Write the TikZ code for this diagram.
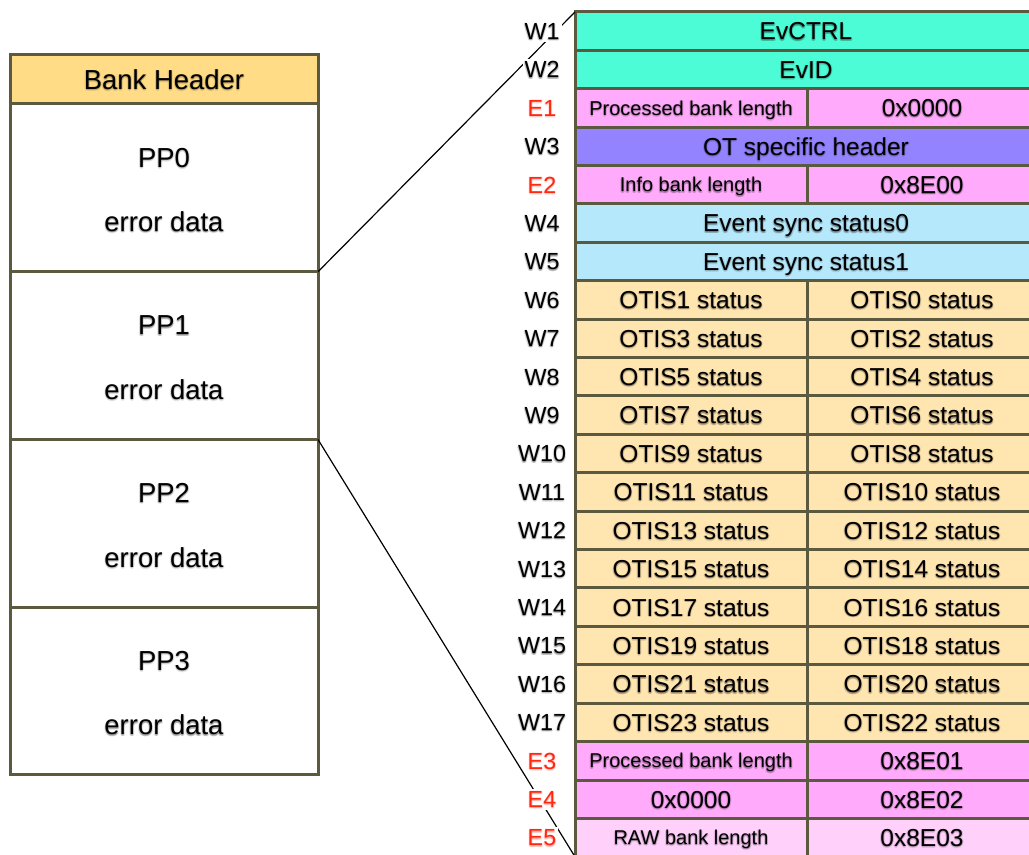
\documentclass[tikz,border=0pt]{standalone}
\usepackage{fontspec}
\setmainfont{Liberation Sans}
\definecolor{frame}{RGB}{92,90,62}
\definecolor{teal}{RGB}{76,252,214}
\definecolor{pinkc}{RGB}{255,170,250}
\definecolor{pinkl}{RGB}{255,208,250}
\definecolor{purplec}{RGB}{148,131,255}
\definecolor{bluec}{RGB}{182,232,252}
\definecolor{otis}{RGB}{255,229,176}
\definecolor{hdrc}{RGB}{255,220,133}
\definecolor{redl}{RGB}{255,40,16}
\tikzset{
  cellbase/.style={draw=frame, line width=2.25pt, inner sep=0pt, outer sep=0pt,
    anchor=north west, minimum height=28.8pt},
  full/.style={cellbase, minimum width=346.5pt},
  lhalf/.style={cellbase, minimum width=174pt},
  rhalf/.style={cellbase, minimum width=172.5pt},
  lbox/.style={draw=frame, line width=2.25pt, inner sep=0pt, outer sep=0pt,
    anchor=north west, minimum width=231pt},
  txt/.style={inner sep=0pt, outer sep=0pt, text depth=0pt},
  big/.style={txt, text height=13.2pt, font=\fontsize{18.4}{20}\selectfont},
  small/.style={txt, text height=10.7pt, font=\fontsize{15}{17}\selectfont},
  large/.style={txt, text height=14.75pt, font=\fontsize{20.6}{24}\selectfont},
  labfont/.style={txt, text height=12.5pt, font=\fontsize{17.5}{20}\selectfont},
  labbg/.style={labfont, fill=white, inner sep=1.5pt, text opacity=0},
  conn/.style={draw=black, line width=0.9pt}
}
% text with a soft drop shadow: #1 style, #2 name, #3 position, #4 text
\newcommand\shtext[4]{%
  \foreach \dx/\dy [count=\i] in {0.5/-0.9, -0.5/-0.9, 0/-1.5, 0.9/-0.4, -0.9/-0.4, 0/-0.4}{
    \node[#1, text opacity=0.09, xshift=\dx pt, yshift=\dy pt] (#2sh\i) at (#3) {#4};
  }
  \node[#1] (#2) at (#3) {#4};
}
% cell with centred text: #1 style, #2 name, #3 corner, #4 text style, #5 text
\newcommand\cell[5]{%
  \node[#1] (#2) at (#3) {};
  \shtext{#4}{#2t}{#2.center}{#5}
}
% word label beside the table: #1 name, #2 row, #3 colour, #4 text
\newcommand\wlabel[4]{%
  \node[labbg] (#1) at (542,12+#2*38.4+19.2) {#4};
  \shtext{labfont, text=#3}{#1t}{#1.center}{#4}
}
\begin{document}
\begin{tikzpicture}[x=0.75pt,y=-0.75pt]
\useasboundingbox (0,0) rectangle (1029,855);
\clip (0,0) rectangle (1029,855);

% bank layout on the left
\node[lbox, fill=hdrc, minimum height=36.75pt] (hdr) at (10,55) {};
\shtext{large}{hdrt}{hdr.center}{Bank Header}
\foreach \p/\y in {0/104, 1/271.75, 2/439.5, 3/607.25}{
  \node[lbox, minimum height=125.8pt] (pp\p) at (10,\y) {};
  \shtext{large, yshift=22.9pt}{pp\p n}{pp\p.center}{PP\p}
  \shtext{large, yshift=-25.4pt}{pp\p e}{pp\p.center}{error data}
}

% word table on the right
\def\tx{575}
\def\ty{12}
\def\rh{38.4}
\def\sx{807}

\cell{full, fill=teal}{w1}{\tx,\ty+0*\rh}{big}{EvCTRL}
\cell{full, fill=teal}{w2}{\tx,\ty+1*\rh}{big}{EvID}
\cell{lhalf, fill=pinkc}{e1l}{\tx,\ty+2*\rh}{small}{Processed bank length}
\cell{rhalf, fill=pinkc}{e1r}{\sx,\ty+2*\rh}{big}{0x0000}
\cell{full, fill=purplec}{w3}{\tx,\ty+3*\rh}{big}{OT specific header}
\cell{lhalf, fill=pinkc}{e2l}{\tx,\ty+4*\rh}{small}{Info bank length}
\cell{rhalf, fill=pinkc}{e2r}{\sx,\ty+4*\rh}{big}{0x8E00}
\cell{full, fill=bluec}{w4}{\tx,\ty+5*\rh}{big}{Event sync status0}
\cell{full, fill=bluec}{w5}{\tx,\ty+6*\rh}{big}{Event sync status1}
\foreach \k [evaluate=\k as \r using int(7+\k), evaluate=\k as \a using int(2*\k+1),
             evaluate=\k as \b using int(2*\k)] in {0,...,11}{
  \cell{lhalf, fill=otis}{ol\k}{\tx,\ty+\r*\rh}{big}{OTIS\a\ status}
  \cell{rhalf, fill=otis}{or\k}{\sx,\ty+\r*\rh}{big}{OTIS\b\ status}
}
\cell{lhalf, fill=pinkc}{e3l}{\tx,\ty+19*\rh}{small}{Processed bank length}
\cell{rhalf, fill=pinkc}{e3r}{\sx,\ty+19*\rh}{big}{0x8E01}
\cell{lhalf, fill=pinkc}{e4l}{\tx,\ty+20*\rh}{big}{0x0000}
\cell{rhalf, fill=pinkc}{e4r}{\sx,\ty+20*\rh}{big}{0x8E02}
\cell{lhalf, fill=pinkl}{e5l}{\tx,\ty+21*\rh}{small}{RAW bank length}
\cell{rhalf, fill=pinkl}{e5r}{\sx,\ty+21*\rh}{big}{0x8E03}

% zoom lines from the PP0 block to the table
\draw[conn] (pp0.south east) -- (w1.north west);
\draw[conn] (pp1.south east) -- (e5l.south west);

% word labels
\wlabel{lw1}{0}{black}{W1}
\wlabel{lw2}{1}{black}{W2}
\wlabel{le1}{2}{redl}{E1}
\wlabel{lw3}{3}{black}{W3}
\wlabel{le2}{4}{redl}{E2}
\wlabel{lw4}{5}{black}{W4}
\wlabel{lw5}{6}{black}{W5}
\foreach \k [evaluate=\k as \n using int(6+\k), evaluate=\k as \r using int(7+\k)] in {0,...,11}{
  \wlabel{lw\n}{\r}{black}{W\n}
}
\wlabel{le3}{19}{redl}{E3}
\wlabel{le4}{20}{redl}{E4}
\wlabel{le5}{21}{redl}{E5}
\end{tikzpicture}
\end{document}
